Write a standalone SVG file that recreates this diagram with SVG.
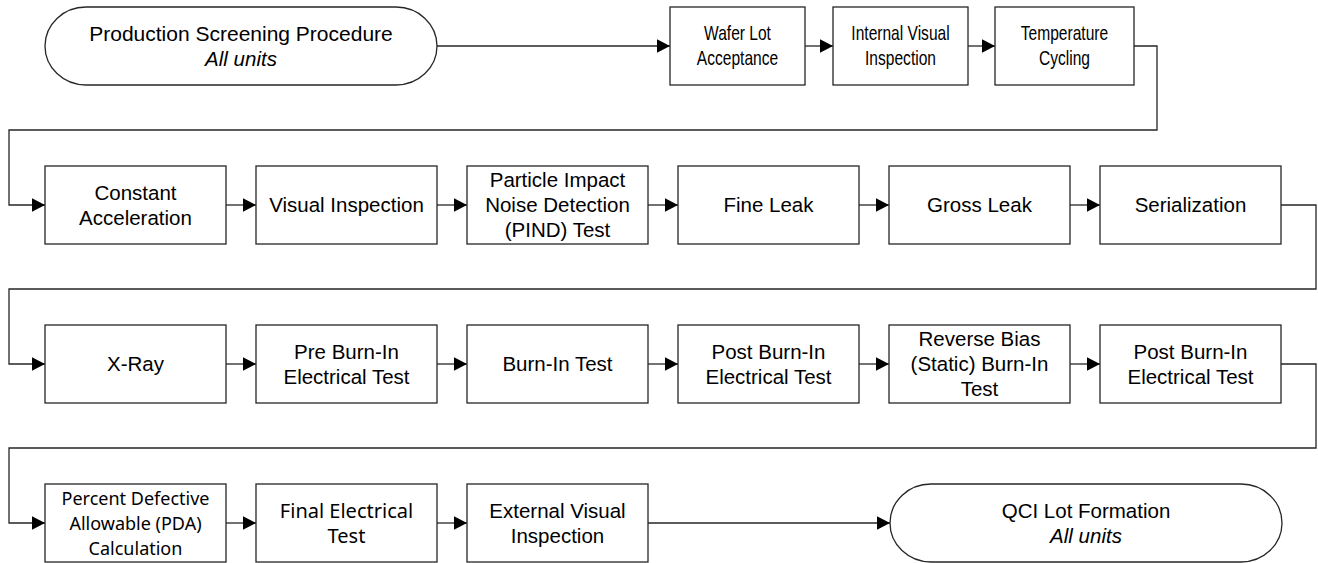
<svg xmlns="http://www.w3.org/2000/svg" width="1318" height="563" viewBox="0 0 1318 563">
<style>
.n{fill:#fff;stroke:#262626;stroke-width:1.3}
.c{fill:none;stroke:#262626;stroke-width:1.3}
text{font-family:"Liberation Sans",Arial,sans-serif;font-size:20.5px;fill:#000;text-anchor:middle}
.i{font-style:italic}
.s{font-family:"Noto Sans","Open Sans",sans-serif}
</style>
<defs>
<marker id="a" markerUnits="userSpaceOnUse" markerWidth="15" markerHeight="15" refX="13.5" refY="7" orient="auto"><path d="M0,0 L13.5,7 L0,14 z" fill="#000"/></marker>
</defs>
<g id="connectors">
<path class="c" d="M437,46 H670" marker-end="url(#a)"/>
<path class="c" d="M805,46 H833" marker-end="url(#a)"/>
<path class="c" d="M968,46 H995" marker-end="url(#a)"/>
<path class="c" d="M1134,46 H1157 V130 H9 V205 H45" marker-end="url(#a)"/>
<path class="c" d="M226,205 H256" marker-end="url(#a)"/>
<path class="c" d="M437,205 H467" marker-end="url(#a)"/>
<path class="c" d="M648,205 H678" marker-end="url(#a)"/>
<path class="c" d="M859,205 H889" marker-end="url(#a)"/>
<path class="c" d="M1070,205 H1100" marker-end="url(#a)"/>
<path class="c" d="M1281,205 H1316 V289 H9 V364 H45" marker-end="url(#a)"/>
<path class="c" d="M226,364 H256" marker-end="url(#a)"/>
<path class="c" d="M437,364 H467" marker-end="url(#a)"/>
<path class="c" d="M648,364 H678" marker-end="url(#a)"/>
<path class="c" d="M859,364 H889" marker-end="url(#a)"/>
<path class="c" d="M1070,364 H1100" marker-end="url(#a)"/>
<path class="c" d="M1281,364 H1316 V448 H9 V523 H45" marker-end="url(#a)"/>
<path class="c" d="M226,523 H256" marker-end="url(#a)"/>
<path class="c" d="M437,523 H467" marker-end="url(#a)"/>
<path class="c" d="M648,523 H890" marker-end="url(#a)"/>
</g>
<g id="start"><rect class="n" x="45" y="7" width="392" height="78" rx="41" ry="39"/><text x="241" y="40.5" style="font-size:21px">Production Screening Procedure</text><text class="i" x="241" y="65.5">All units</text></g>
<g id="wafer"><rect class="n" x="670" y="7" width="135" height="78"/><g transform="translate(737.5,0) scale(0.76,1)"><text x="0" y="40.5">Wafer Lot</text><text x="0" y="65.5">Acceptance</text></g></g>
<g id="internal"><rect class="n" x="833" y="7" width="135" height="78"/><g transform="translate(900.5,0) scale(0.76,1)"><text x="0" y="40.5">Internal Visual</text><text x="0" y="65.5">Inspection</text></g></g>
<g id="tempcycle"><rect class="n" x="995" y="7" width="139" height="78"/><g transform="translate(1064.5,0) scale(0.76,1)"><text x="0" y="40.5">Temperature</text><text x="0" y="65.5">Cycling</text></g></g>

<g id="constacc"><rect class="n" x="45" y="166" width="181" height="78"/><text x="135.5" y="199.5">Constant</text><text x="135.5" y="224.5">Acceleration</text></g>
<g id="visual"><rect class="n" x="256" y="166" width="181" height="78"/><text x="346.5" y="212">Visual Inspection</text></g>
<g id="pind"><rect class="n" x="467" y="166" width="181" height="78"/><text x="557.5" y="187">Particle Impact</text><text x="557.5" y="212">Noise Detection</text><text x="557.5" y="237">(PIND) Test</text></g>
<g id="fineleak"><rect class="n" x="678" y="166" width="181" height="78"/><text x="768.5" y="212">Fine Leak</text></g>
<g id="grossleak"><rect class="n" x="889" y="166" width="181" height="78"/><text x="979.5" y="212">Gross Leak</text></g>
<g id="serial"><rect class="n" x="1100" y="166" width="181" height="78"/><text x="1190.5" y="212">Serialization</text></g>

<g id="xray"><rect class="n" x="45" y="325" width="181" height="78"/><text x="135.5" y="371">X-Ray</text></g>
<g id="preburn"><rect class="n" x="256" y="325" width="181" height="78"/><text x="346.5" y="358.5">Pre Burn-In</text><text x="346.5" y="383.5">Electrical Test</text></g>
<g id="burnin"><rect class="n" x="467" y="325" width="181" height="78"/><text x="557.5" y="371">Burn-In Test</text></g>
<g id="postburn1"><rect class="n" x="678" y="325" width="181" height="78"/><text x="768.5" y="358.5">Post Burn-In</text><text x="768.5" y="383.5">Electrical Test</text></g>
<g id="reverse"><rect class="n" x="889" y="325" width="181" height="78"/><text x="979.5" y="346">Reverse Bias</text><text x="979.5" y="371">(Static) Burn-In</text><text x="979.5" y="396">Test</text></g>
<g id="postburn2"><rect class="n" x="1100" y="325" width="181" height="78"/><text x="1190.5" y="358.5">Post Burn-In</text><text x="1190.5" y="383.5">Electrical Test</text></g>

<g id="pda"><rect class="n" x="45" y="484" width="181" height="78"/><text class="s" x="135.5" y="505" style="font-size:18px">Percent Defective</text><text class="s" x="135.5" y="530" style="font-size:18px">Allowable (PDA)</text><text class="s" x="135.5" y="555" style="font-size:18px">Calculation</text></g>
<g id="final"><rect class="n" x="256" y="484" width="181" height="78"/><text class="s" x="346.5" y="517.5" style="font-size:20px">Final Electrical</text><text class="s" x="346.5" y="542.5" style="font-size:20px">Test</text></g>
<g id="external"><rect class="n" x="467" y="484" width="181" height="78"/><text x="557.5" y="517.5">External Visual</text><text x="557.5" y="542.5">Inspection</text></g>
<g id="qci"><rect class="n" x="890" y="484" width="392" height="78" rx="41" ry="39"/><text x="1086" y="517.5">QCI Lot Formation</text><text class="i" x="1086" y="542.5">All units</text></g>
</svg>
